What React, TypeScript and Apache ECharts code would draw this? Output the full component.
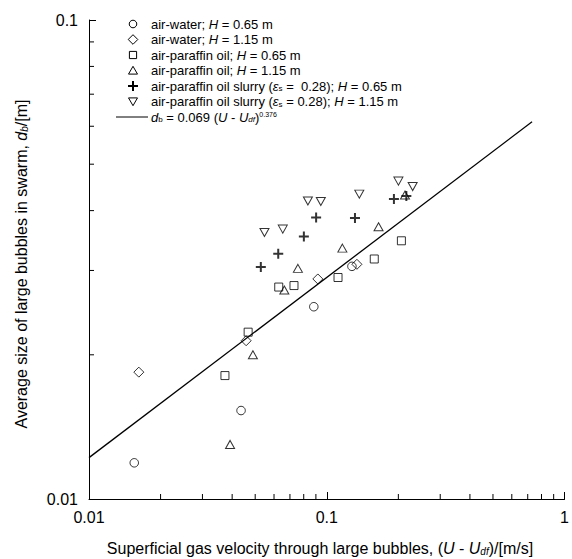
import React, { useEffect, useRef } from "react";
import * as echarts from "echarts";

// ---- data (U - Udf [m/s], d_b [m]) ----
const airWater065 = [
  [0.0155, 0.0119], [0.0436, 0.0153], [0.0882, 0.0252], [0.1276, 0.0306],
];
const airWater115 = [
  [0.0162, 0.0184], [0.0458, 0.0214], [0.0917, 0.0288], [0.1339, 0.0309],
];
const paraffin065 = [
  [0.0373, 0.0181], [0.0467, 0.0223], [0.0628, 0.0277], [0.0728, 0.0279],
  [0.1115, 0.029], [0.1584, 0.0317], [0.206, 0.0346],
];
const paraffin115 = [
  [0.0392, 0.013], [0.0489, 0.02], [0.0663, 0.0273], [0.0756, 0.0303],
  [0.1163, 0.0334], [0.1651, 0.037], [0.2133, 0.0431],
];
const slurry065 = [
  [0.0528, 0.0305], [0.0625, 0.0325], [0.0801, 0.0353], [0.0902, 0.0387],
  [0.1314, 0.0386], [0.1916, 0.0423], [0.2161, 0.0429],
];
const slurry115 = [
  [0.0547, 0.036], [0.0653, 0.0366], [0.0833, 0.0419], [0.0944, 0.0418],
  [0.137, 0.0433], [0.2001, 0.0461], [0.2297, 0.0449],
];
const fitLine = [
  [0.01, 0.0122], [0.73, 0.0613],
];

const xMinorTicks = [0.02, 0.03, 0.04, 0.05, 0.06, 0.07, 0.08, 0.09, 0.2, 0.3, 0.4, 0.5, 0.6, 0.7, 0.8, 0.9];
const yMinorTicks = [0.02, 0.03, 0.04, 0.05, 0.06, 0.07, 0.08, 0.09];

const legendLabels = [
  "air-water; {i|H} = 0.65 m",
  "air-water; {i|H} = 1.15 m",
  "air-paraffin oil; {i|H} = 0.65 m",
  "air-paraffin oil; {i|H} = 1.15 m",
  "air-paraffin oil slurry ({i|ε}{sub|s} =  0.28); {i|H} = 0.65 m",
  "air-paraffin oil slurry ({i|ε}{sub|s} = 0.28); {i|H} = 1.15 m",
  "{i|d}{sub|b} = 0.069 ({i|U} - {i|U}{isub|df}){sup|0.376}",
];
const xTitle = "Superficial gas velocity through large bubbles, ({i|U} - {i|U}{isub|df})/[m/s]";
const yTitle = "Average size of large bubbles in swarm, {i|d}{isub|b}/[m]";

const FONT = "'Liberation Sans', Arial, Helvetica, sans-serif";
const PLUS = "path://M0,5L10,5M5,0L5,10";

function rich(fs: number) {
  return {
    i: { fontStyle: "italic", fontSize: fs, fontFamily: FONT, fill: "#000" },
    sub: { fontSize: Math.round(fs * 0.62), fontFamily: FONT, fill: "#000", verticalAlign: "bottom" },
    isub: { fontSize: Math.round(fs * 0.62), fontStyle: "italic", fontFamily: FONT, fill: "#000", verticalAlign: "bottom" },
    sup: { fontSize: Math.round(fs * 0.55), fontFamily: FONT, fill: "#000", verticalAlign: "top" },
  };
}

function legendGraphics() {
  const cx = 133;
  const tx = 151;
  const y0 = 24;
  const dy = 15.5;
  const stroke = { fill: "none", stroke: "#000", lineWidth: 1 };
  const els: any[] = [];
  legendLabels.forEach((lab, k) => {
    const y = y0 + k * dy;
    let sym: any;
    if (k === 0) sym = { type: "circle", shape: { cx, cy: y, r: 3.8 }, style: stroke };
    else if (k === 1) sym = { type: "polygon", shape: { points: [[cx, y - 4.8], [cx + 4.8, y], [cx, y + 4.8], [cx - 4.8, y]] }, style: stroke };
    else if (k === 2) sym = { type: "rect", shape: { x: cx - 3.6, y: y - 3.6, width: 7.2, height: 7.2 }, style: stroke };
    else if (k === 3) sym = { type: "polygon", shape: { points: [[cx, y - 4.2], [cx + 4.5, y + 3.6], [cx - 4.5, y + 3.6]] }, style: stroke };
    else if (k === 4) sym = {
      type: "group",
      children: [
        { type: "line", shape: { x1: cx - 5, y1: y, x2: cx + 5, y2: y }, style: { stroke: "#000", lineWidth: 2 } },
        { type: "line", shape: { x1: cx, y1: y - 5, x2: cx, y2: y + 5 }, style: { stroke: "#000", lineWidth: 2 } },
      ],
    };
    else if (k === 5) sym = { type: "polygon", shape: { points: [[cx - 4.5, y - 3.6], [cx + 4.5, y - 3.6], [cx, y + 4.2]] }, style: stroke };
    else sym = { type: "line", shape: { x1: 116, y1: y, x2: 148, y2: y }, style: { stroke: "#000", lineWidth: 1 } };
    els.push(sym);
    els.push({
      type: "text",
      x: tx,
      y,
      style: {
        text: lab,
        fontSize: 13,
        fontFamily: FONT,
        fill: "#000",
        verticalAlign: "middle",
        align: "left",
        rich: rich(13),
      },
    });
  });
  return els;
}

function tickSeries(values: number[], isX: boolean) {
  return {
    type: "custom",
    coordinateSystem: "cartesian2d",
    silent: true,
    clip: false,
    data: values.map((v) => (isX ? [v, 0.01] : [0.01, v])),
    renderItem: (params: any, api: any) => {
      const p = api.coord([api.value(0), api.value(1)]);
      const len = 5;
      return {
        type: "line",
        shape: isX
          ? { x1: p[0], y1: p[1], x2: p[0], y2: p[1] - len }
          : { x1: p[0], y1: p[1], x2: p[0] + len, y2: p[1] },
        style: { stroke: "#000", lineWidth: 1 },
      };
    },
    z: 5,
  };
}

function scatter(name: string, data: number[][], symbol: string, size: any, extra: any = {}) {
  return {
    name,
    type: "scatter",
    data,
    symbol,
    symbolSize: size,
    itemStyle: { color: "rgba(0,0,0,0)", borderColor: "#000", borderWidth: 1 },
    ...extra,
  };
}

export default function App() {
  const ref = useRef<HTMLDivElement>(null);
  useEffect(() => {
    if (!ref.current) return;
    const chart = echarts.init(ref.current, undefined, { renderer: "svg" });
    const axisCommon = {
      type: "log",
      logBase: 10,
      min: 0.01,
      axisLine: { show: true, lineStyle: { color: "#000", width: 1 } },
      axisTick: { show: true, inside: true, length: 7, lineStyle: { color: "#000", width: 1 } },
      splitLine: { show: false },
      minorTick: { show: false },
      axisLabel: { color: "#000", fontSize: 16, fontFamily: FONT },
    };
    chart.setOption({
      animation: false,
      backgroundColor: "#fff",
      grid: { left: 89, right: 5, top: 20, bottom: 60, containLabel: false },
      xAxis: { ...axisCommon, max: 1, axisLabel: { ...axisCommon.axisLabel, margin: 10 } },
      yAxis: { ...axisCommon, max: 0.1, axisLabel: { ...axisCommon.axisLabel, margin: 11 } },
      graphic: [
        ...legendGraphics(),
        {
          type: "text",
          x: 320,
          y: 548,
          style: {
            text: xTitle,
            fontSize: 16,
            fontFamily: FONT,
            fill: "#000",
            align: "center",
            verticalAlign: "middle",
            rich: rich(16),
          },
        },
        {
          type: "text",
          x: 21,
          y: 264,
          rotation: Math.PI / 2,
          style: {
            text: yTitle,
            fontSize: 16,
            fontFamily: FONT,
            fill: "#000",
            align: "center",
            verticalAlign: "middle",
            rich: rich(16),
          },
        },
      ],
      series: [
        {
          name: "fit",
          type: "line",
          data: fitLine,
          showSymbol: false,
          symbol: "none",
          lineStyle: { color: "#000", width: 1.3 },
          z: 1,
        },
        scatter("air-water 0.65", airWater065, "circle", 8.5),
        scatter("air-water 1.15", airWater115, "diamond", [10, 10]),
        scatter("paraffin 0.65", paraffin065, "rect", 8),
        scatter("paraffin 1.15", paraffin115, "triangle", [9, 8]),
        scatter("slurry 0.65", slurry065, PLUS, 10, {
          itemStyle: { color: "rgba(0,0,0,0)", borderColor: "#000", borderWidth: 2 },
        }),
        scatter("slurry 1.15", slurry115, "triangle", [9, 8], { symbolRotate: 180 }),
        tickSeries(xMinorTicks, true),
        tickSeries(yMinorTicks, false),
      ],
    });
    return () => chart.dispose();
  }, []);
  return (
    <div
      ref={ref}
      style={{ position: "fixed", left: 0, top: 0, width: 572, height: 559, background: "#fff" }}
    />
  );
}
